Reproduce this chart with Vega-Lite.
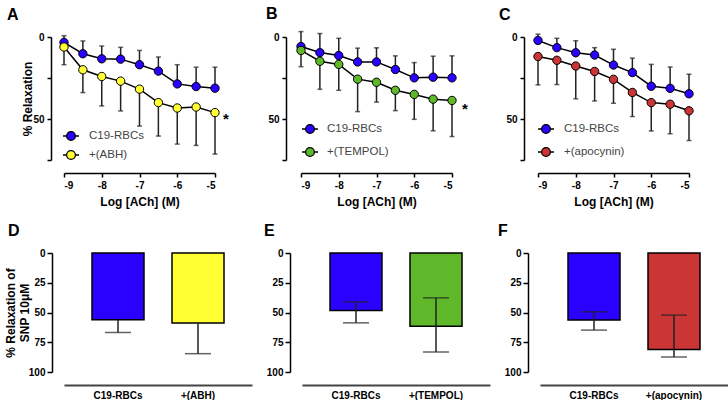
{
  "$schema": "https://vega.github.io/schema/vega-lite/v6.json",
  "background": "white",
  "autosize": {"type": "pad"},
  "padding": {"left": 4, "top": 5, "right": 0, "bottom": 0},
  "config": {
    "view": {"stroke": null},
    "font": "Liberation Sans",
    "axis": {"grid": false, "labelFont": "Liberation Sans", "titleFont": "Liberation Sans", "domainColor": "black", "domainWidth": 1.5, "tickColor": "black", "tickWidth": 1.5, "tickSize": 4, "labelColor": "black", "labelFontWeight": "bold", "labelFontSize": 10, "titleColor": "black"},
    "title": {"font": "Liberation Sans", "fontSize": 16, "fontWeight": "bold", "color": "black", "anchor": "start", "frame": "group", "baseline": "alphabetic"},
    "legend": {"padding": 0, "labelFont": "Liberation Sans"}
  },
  "datasets": {
    "A": [
      {"g": "C19-RBCs", "x": -9, "y": 3.3, "e": -0.8},
      {"g": "C19-RBCs", "x": -8.5, "y": 10.2, "e": 2.4},
      {"g": "C19-RBCs", "x": -8, "y": 13.3, "e": 5.5},
      {"g": "C19-RBCs", "x": -7.5, "y": 13.5, "e": 6.3},
      {"g": "C19-RBCs", "x": -7, "y": 16.9, "e": 8.2},
      {"g": "C19-RBCs", "x": -6.5, "y": 20.8, "e": 12.2},
      {"g": "C19-RBCs", "x": -6, "y": 28.6, "e": 16.9},
      {"g": "C19-RBCs", "x": -5.5, "y": 30.2, "e": 18.4},
      {"g": "C19-RBCs", "x": -5, "y": 31.2, "e": 18.4},
      {"g": "+(ABH)", "x": -9, "y": 6.1, "e": 16.9},
      {"g": "+(ABH)", "x": -8.5, "y": 20, "e": 33.9},
      {"g": "+(ABH)", "x": -8, "y": 24.1, "e": 42},
      {"g": "+(ABH)", "x": -7.5, "y": 26.9, "e": 45.1},
      {"g": "+(ABH)", "x": -7, "y": 31.8, "e": 54.3},
      {"g": "+(ABH)", "x": -6.5, "y": 40, "e": 60.4},
      {"g": "+(ABH)", "x": -6, "y": 43.3, "e": 65.3},
      {"g": "+(ABH)", "x": -5.5, "y": 42.7, "e": 66.1},
      {"g": "+(ABH)", "x": -5, "y": 46.1, "e": 71.4}
    ],
    "B": [
      {"g": "C19-RBCs", "x": -9, "y": 5.8, "e": -3.3},
      {"g": "C19-RBCs", "x": -8.5, "y": 9.5, "e": -2.1},
      {"g": "C19-RBCs", "x": -8, "y": 11.3, "e": 0.8},
      {"g": "C19-RBCs", "x": -7.5, "y": 15.2, "e": 6.8},
      {"g": "C19-RBCs", "x": -7, "y": 15.2, "e": 6.6},
      {"g": "C19-RBCs", "x": -6.5, "y": 19.8, "e": 11.5},
      {"g": "C19-RBCs", "x": -6, "y": 24.9, "e": 15.6},
      {"g": "C19-RBCs", "x": -5.5, "y": 24.5, "e": 11.7},
      {"g": "C19-RBCs", "x": -5, "y": 24.9, "e": 11.5},
      {"g": "+(TEMPOL)", "x": -9, "y": 8.2, "e": 18.1},
      {"g": "+(TEMPOL)", "x": -8.5, "y": 14.8, "e": 31.9},
      {"g": "+(TEMPOL)", "x": -8, "y": 16.7, "e": 32.5},
      {"g": "+(TEMPOL)", "x": -7.5, "y": 25.7, "e": 45.5},
      {"g": "+(TEMPOL)", "x": -7, "y": 27.6, "e": 39.7},
      {"g": "+(TEMPOL)", "x": -6.5, "y": 32.5, "e": 44.9},
      {"g": "+(TEMPOL)", "x": -6, "y": 35, "e": 50.2},
      {"g": "+(TEMPOL)", "x": -5.5, "y": 37.9, "e": 57.2},
      {"g": "+(TEMPOL)", "x": -5, "y": 38.7, "e": 60.7}
    ],
    "C": [
      {"g": "C19-RBCs", "x": -9, "y": 2.1, "e": -1.7},
      {"g": "C19-RBCs", "x": -8.5, "y": 6.5, "e": 0.8},
      {"g": "C19-RBCs", "x": -8, "y": 9.6, "e": 2.3},
      {"g": "C19-RBCs", "x": -7.5, "y": 11, "e": 6.5},
      {"g": "C19-RBCs", "x": -7, "y": 17.1, "e": 7.5},
      {"g": "C19-RBCs", "x": -6.5, "y": 21.7, "e": 12.9},
      {"g": "C19-RBCs", "x": -6, "y": 30, "e": 16.7},
      {"g": "C19-RBCs", "x": -5.5, "y": 31.3, "e": 18.3},
      {"g": "C19-RBCs", "x": -5, "y": 34.6, "e": 22.7},
      {"g": "+(apocynin)", "x": -9, "y": 11.9, "e": 29.2},
      {"g": "+(apocynin)", "x": -8.5, "y": 14.2, "e": 29},
      {"g": "+(apocynin)", "x": -8, "y": 17.7, "e": 37.7},
      {"g": "+(apocynin)", "x": -7.5, "y": 21, "e": 39},
      {"g": "+(apocynin)", "x": -7, "y": 25.8, "e": 40.4},
      {"g": "+(apocynin)", "x": -6.5, "y": 33.8, "e": 48.5},
      {"g": "+(apocynin)", "x": -6, "y": 40, "e": 57.3},
      {"g": "+(apocynin)", "x": -5.5, "y": 41, "e": 59},
      {"g": "+(apocynin)", "x": -5, "y": 45, "e": 63.1}
    ],
    "D": [
      {"g": "C19-RBCs", "y": 56.1, "lo": 56.1, "hi": 66.8},
      {"g": "+(ABH)", "y": 58.9, "lo": 58.9, "hi": 84.6}
    ],
    "E": [
      {"g": "C19-RBCs", "y": 48.3, "lo": 41.1, "hi": 58.7},
      {"g": "+(TEMPOL)", "y": 61.5, "lo": 37.7, "hi": 83.2}
    ],
    "F": [
      {"g": "C19-RBCs", "y": 56.4, "lo": 49.4, "hi": 64.8},
      {"g": "+(apocynin)", "y": 81, "lo": 52.2, "hi": 87.4}
    ]
  },
  "spacing": 16,
  "vconcat": [
    {
      "bounds": "flush",
      "spacing": 86,
      "resolve": {"scale": {"x": "independent", "y": "independent", "color": "independent"}, "legend": {"color": "independent"}},
      "hconcat": [
        {
          "width": 151, "height": 123,
          "data": {"name": "A"},
          "title": {"text": "A", "dx": -57, "offset": 9},
          "encoding": {
            "x": {"field": "x", "type": "quantitative", "scale": {"domain": [-9, -5], "nice": false, "zero": false},
              "axis": {"values": [-9, -8, -7, -6, -5], "labelExpr": "'' + datum.value", "offset": 13, "labelPadding": 3, "title": "Log [ACh] (M)", "titleFontSize": 12, "titleFontWeight": "bold", "titlePadding": 6}},
            "y": {"field": "y", "type": "quantitative", "scale": {"domain": [0, 75], "reverse": true, "nice": false, "zero": false},
              "axis": {"values": [0, 25, 50, 75], "labelExpr": "datum.value % 50 == 0 ? datum.label : ''", "offset": 13, "labelPadding": 3, "title": "% Relaxation", "titleFontSize": 12, "titleFontWeight": "bold", "titlePadding": -2}}
          },
          "layer": [
            {"mark": {"type": "rule", "color": "#222", "strokeWidth": 1.5}, "encoding": {"y2": {"field": "e"}}},
            {"mark": {"type": "tick", "orient": "horizontal", "size": 5, "thickness": 1.5, "color": "#222"}, "encoding": {"y": {"field": "e", "type": "quantitative"}}},
            {"mark": {"type": "line", "color": "black", "strokeWidth": 1.5}, "encoding": {"detail": {"field": "g"}}},
            {"mark": {"type": "point", "filled": true, "shape": "circle", "size": 70, "stroke": "black", "strokeWidth": 1, "opacity": 1},
              "encoding": {"color": {"field": "g", "type": "nominal",
                "scale": {"domain": ["C19-RBCs", "+(ABH)"], "range": ["#2a00ff", "#ffff33"]},
                "legend": {"orient": "none", "legendX": -2, "legendY": 90, "title": null, "symbolType": "M-1,0L-0.55,0M0.55,0L1,0M-0.55,0A0.55,0.55 0 1,0 0.55,0A0.55,0.55 0 1,0 -0.55,0Z", "symbolSize": 256, "symbolStrokeColor": "black", "symbolStrokeWidth": 1.3, "symbolOpacity": 1, "labelFontSize": 11.5, "labelColor": "#444", "labelOffset": 9, "rowPadding": 3}}}},
            {"data": {"values": [{"x": -5, "y": 46.1, "t": "*"}]}, "mark": {"type": "text", "dx": 11, "dy": 6, "fontSize": 15, "fontWeight": "bold", "color": "black"}, "encoding": {"text": {"field": "t"}}}
          ]
        },
        {
          "width": 151, "height": 123,
          "data": {"name": "B"},
          "title": {"text": "B", "dx": -35, "offset": 9},
          "encoding": {
            "x": {"field": "x", "type": "quantitative", "scale": {"domain": [-9, -5], "nice": false, "zero": false},
              "axis": {"values": [-9, -8, -7, -6, -5], "labelExpr": "'' + datum.value", "offset": 13, "labelPadding": 3, "title": "Log [ACh] (M)", "titleFontSize": 12, "titleFontWeight": "bold", "titlePadding": 6}},
            "y": {"field": "y", "type": "quantitative", "scale": {"domain": [0, 75], "reverse": true, "nice": false, "zero": false},
              "axis": {"values": [0, 25, 50, 75], "labelExpr": "datum.value % 50 == 0 ? datum.label : ''", "offset": 15, "labelPadding": 3, "title": null}}
          },
          "layer": [
            {"mark": {"type": "rule", "color": "#222", "strokeWidth": 1.5}, "encoding": {"y2": {"field": "e"}}},
            {"mark": {"type": "tick", "orient": "horizontal", "size": 5, "thickness": 1.5, "color": "#222"}, "encoding": {"y": {"field": "e", "type": "quantitative"}}},
            {"mark": {"type": "line", "color": "black", "strokeWidth": 1.5}, "encoding": {"detail": {"field": "g"}}},
            {"mark": {"type": "point", "filled": true, "shape": "circle", "size": 70, "stroke": "black", "strokeWidth": 1, "opacity": 1},
              "encoding": {"color": {"field": "g", "type": "nominal",
                "scale": {"domain": ["C19-RBCs", "+(TEMPOL)"], "range": ["#2a00ff", "#5fb82a"]},
                "legend": {"orient": "none", "legendX": 0, "legendY": 83, "title": null, "symbolType": "M-1,0L-0.55,0M0.55,0L1,0M-0.55,0A0.55,0.55 0 1,0 0.55,0A0.55,0.55 0 1,0 -0.55,0Z", "symbolSize": 256, "symbolStrokeColor": "black", "symbolStrokeWidth": 1.3, "symbolOpacity": 1, "labelFontSize": 11.5, "labelColor": "#444", "labelOffset": 8, "rowPadding": 7}}}},
            {"data": {"values": [{"x": -5, "y": 38.7, "t": "*"}]}, "mark": {"type": "text", "dx": 13, "dy": 9, "fontSize": 15, "fontWeight": "bold", "color": "black"}, "encoding": {"text": {"field": "t"}}}
          ]
        },
        {
          "width": 151, "height": 123,
          "data": {"name": "C"},
          "title": {"text": "C", "dx": -39, "offset": 9},
          "encoding": {
            "x": {"field": "x", "type": "quantitative", "scale": {"domain": [-9, -5], "nice": false, "zero": false},
              "axis": {"values": [-9, -8, -7, -6, -5], "labelExpr": "'' + datum.value", "offset": 13, "labelPadding": 3, "title": "Log [ACh] (M)", "titleFontSize": 12, "titleFontWeight": "bold", "titlePadding": 6}},
            "y": {"field": "y", "type": "quantitative", "scale": {"domain": [0, 75], "reverse": true, "nice": false, "zero": false},
              "axis": {"values": [0, 25, 50, 75], "labelExpr": "datum.value % 50 == 0 ? datum.label : ''", "offset": 14, "labelPadding": 3, "title": null}}
          },
          "layer": [
            {"mark": {"type": "rule", "color": "#222", "strokeWidth": 1.5}, "encoding": {"y2": {"field": "e"}}},
            {"mark": {"type": "tick", "orient": "horizontal", "size": 5, "thickness": 1.5, "color": "#222"}, "encoding": {"y": {"field": "e", "type": "quantitative"}}},
            {"mark": {"type": "line", "color": "black", "strokeWidth": 1.5}, "encoding": {"detail": {"field": "g"}}},
            {"mark": {"type": "point", "filled": true, "shape": "circle", "size": 70, "stroke": "black", "strokeWidth": 1, "opacity": 1},
              "encoding": {"color": {"field": "g", "type": "nominal",
                "scale": {"domain": ["C19-RBCs", "+(apocynin)"], "range": ["#2a00ff", "#cc3535"]},
                "legend": {"orient": "none", "legendX": -1, "legendY": 83, "title": null, "symbolType": "M-1,0L-0.55,0M0.55,0L1,0M-0.55,0A0.55,0.55 0 1,0 0.55,0A0.55,0.55 0 1,0 -0.55,0Z", "symbolSize": 256, "symbolStrokeColor": "black", "symbolStrokeWidth": 1.3, "symbolOpacity": 1, "labelFontSize": 11.5, "labelColor": "#444", "labelOffset": 9, "rowPadding": 7}}}}
          ]
        }
      ]
    },
    {
      "bounds": "flush",
      "spacing": 50,
      "resolve": {"scale": {"x": "independent", "y": "independent", "color": "independent"}},
      "hconcat": [
        {
          "width": 188, "height": 119,
          "data": {"name": "D"},
          "title": {"text": "D", "dx": -56, "offset": 9},
          "encoding": {
            "x": {"field": "g", "type": "nominal", "sort": null, "scale": {"domain": ["C19-RBCs", "+(ABH)"], "paddingInner": 0.35, "paddingOuter": 0.35},
              "axis": {"title": null, "labelAngle": 0, "offset": 13, "domainColor": "#444", "domainWidth": 2, "ticks": false, "labelPadding": 5}},
            "y": {"field": "y", "type": "quantitative", "scale": {"domain": [0, 100], "reverse": true, "nice": false},
              "axis": {"values": [0, 25, 50, 75, 100], "offset": 12, "tickSize": 5, "labelPadding": 2, "title": ["% Relaxation of", "SNP 10μM"], "titleFontSize": 12, "titleFontWeight": "bold", "titlePadding": -3, "titleLineHeight": 14}}
          },
          "layer": [
            {"mark": {"type": "bar", "stroke": "black", "strokeWidth": 1.5}, "encoding": {"color": {"field": "g", "type": "nominal", "scale": {"domain": ["C19-RBCs", "+(ABH)"], "range": ["#2a00ff", "#ffff33"]}, "legend": null}}},
            {"mark": {"type": "rule", "color": "#222", "strokeWidth": 1.5}, "encoding": {"y": {"field": "lo", "type": "quantitative"}, "y2": {"field": "hi"}}},
            {"mark": {"type": "tick", "orient": "horizontal", "size": 26, "thickness": 1.5, "color": "#222"}, "encoding": {"y": {"field": "hi", "type": "quantitative"}}}
          ]
        },
        {
          "width": 188, "height": 119,
          "data": {"name": "E"},
          "title": {"text": "E", "dx": -38, "offset": 9},
          "encoding": {
            "x": {"field": "g", "type": "nominal", "sort": null, "scale": {"domain": ["C19-RBCs", "+(TEMPOL)"], "paddingInner": 0.35, "paddingOuter": 0.35},
              "axis": {"title": null, "labelAngle": 0, "offset": 13, "domainColor": "#444", "domainWidth": 2, "ticks": false, "labelPadding": 5}},
            "y": {"field": "y", "type": "quantitative", "scale": {"domain": [0, 100], "reverse": true, "nice": false},
              "axis": {"values": [0, 25, 50, 75, 100], "offset": 12, "tickSize": 5, "labelPadding": 2, "title": null}}
          },
          "layer": [
            {"mark": {"type": "bar", "stroke": "black", "strokeWidth": 1.5}, "encoding": {"color": {"field": "g", "type": "nominal", "scale": {"domain": ["C19-RBCs", "+(TEMPOL)"], "range": ["#2a00ff", "#5fb82a"]}, "legend": null}}},
            {"mark": {"type": "rule", "color": "#222", "strokeWidth": 1.5}, "encoding": {"y": {"field": "lo", "type": "quantitative"}, "y2": {"field": "hi"}}},
            {"mark": {"type": "tick", "orient": "horizontal", "size": 26, "thickness": 1.5, "color": "#222"}, "encoding": {"y": {"field": "hi", "type": "quantitative"}}},
            {"mark": {"type": "tick", "orient": "horizontal", "size": 26, "thickness": 1.5, "color": "#222"}, "encoding": {"y": {"field": "lo", "type": "quantitative"}}}
          ]
        },
        {
          "width": 188, "height": 119,
          "data": {"name": "F"},
          "title": {"text": "F", "dx": -42, "offset": 9},
          "encoding": {
            "x": {"field": "g", "type": "nominal", "sort": null, "scale": {"domain": ["C19-RBCs", "+(apocynin)"], "paddingInner": 0.35, "paddingOuter": 0.35},
              "axis": {"title": null, "labelAngle": 0, "offset": 13, "domainColor": "#444", "domainWidth": 2, "ticks": false, "labelPadding": 5}},
            "y": {"field": "y", "type": "quantitative", "scale": {"domain": [0, 100], "reverse": true, "nice": false},
              "axis": {"values": [0, 25, 50, 75, 100], "offset": 12, "tickSize": 5, "labelPadding": 2, "title": null}}
          },
          "layer": [
            {"mark": {"type": "bar", "stroke": "black", "strokeWidth": 1.5}, "encoding": {"color": {"field": "g", "type": "nominal", "scale": {"domain": ["C19-RBCs", "+(apocynin)"], "range": ["#2a00ff", "#cc3535"]}, "legend": null}}},
            {"mark": {"type": "rule", "color": "#222", "strokeWidth": 1.5}, "encoding": {"y": {"field": "lo", "type": "quantitative"}, "y2": {"field": "hi"}}},
            {"mark": {"type": "tick", "orient": "horizontal", "size": 26, "thickness": 1.5, "color": "#222"}, "encoding": {"y": {"field": "hi", "type": "quantitative"}}},
            {"mark": {"type": "tick", "orient": "horizontal", "size": 26, "thickness": 1.5, "color": "#222"}, "encoding": {"y": {"field": "lo", "type": "quantitative"}}}
          ]
        }
      ]
    }
  ]
}
